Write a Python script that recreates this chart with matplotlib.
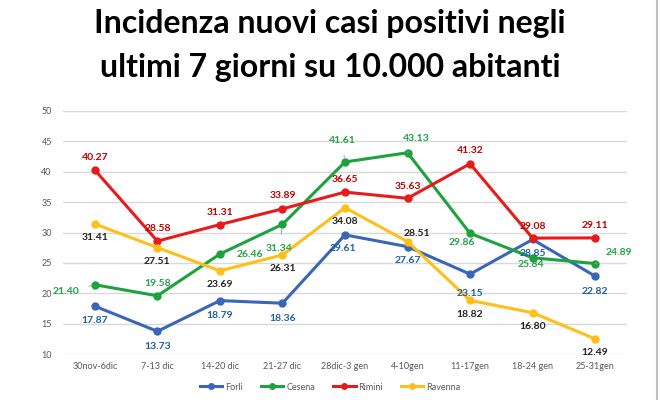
import numpy as np
import matplotlib.pyplot as plt
from matplotlib.lines import Line2D

plt.rcParams['font.family'] = ['Lato', 'DejaVu Sans']

settimane = ['30nov-6dic', '7-13 dic', '14-20 dic', '21-27 dic', '28dic-3 gen',
             '4-10gen', '11-17gen', '18-24 gen', '25-31gen']

forli = [17.87, 13.73, 18.79, 18.36, 29.61, 27.67, 23.15, 28.85, 22.82]
cesena = [21.40, 19.58, 26.46, 31.34, 41.61, 43.13, 29.86, 25.84, 24.89]
rimini = [40.27, 28.58, 31.31, 33.89, 36.65, 35.63, 41.32, 29.08, 29.11]
ravenna = [31.41, 27.51, 23.69, 26.31, 34.08, 28.51, 18.82, 16.80, 12.49]

# spostamento etichette (pixel)
off_forli = [(0, -14), (0, -15), (0, -14.5), (0, -15), (-2, -14), (0, -14), (0, -19), (0, -14), (0, -15)]
off_cesena = [(-29, -7), (0, 12), (30, 0), (-3, -24), (-3, 21), (9, 14), (-8, -9), (-2, -7), (24, 11)]
off_rimini = [(0, 13), (0, 13), (0, 12.5), (0, 13), (0, 13), (0, 12), (0, 13), (0, 12), (0, 12)]
off_ravenna = [(0, -14), (0, -14), (0, -14), (0, -14), (0, -14), (9, 8), (0, -14), (0, -14), (0, -14)]

# etichette con linea guida
guida = {('Cesena', 0), ('Cesena', 3), ('Cesena', 4), ('Cesena', 5), ('Cesena', 8), ('Forlì', 6)}

serie = [
    ('Forlì', forli, '#3A66B8', '#1F5FAA', off_forli),
    ('Cesena', cesena, '#1DA33E', '#22A347', off_cesena),
    ('Rimini', rimini, '#E81B1B', '#C00000', off_rimini),
    ('Ravenna', ravenna, '#FFBF1A', '#222222', off_ravenna),
]

fig = plt.figure(figsize=(6.6, 4), dpi=100)
ax = fig.add_axes([63 / 660, 1 - 354 / 400, (627 - 63) / 660, (354 - 111) / 400])

x = np.arange(len(settimane))
px = 72 / 100  # pixel -> punti
for nome, vals, col, lcol, offs in serie:
    ax.plot(x, vals, color=col, lw=2.2, marker='o', ms=5, label=nome, zorder=3)
    for i, (xi, v, (dx, dy)) in enumerate(zip(x, vals, offs)):
        ap = None
        if (nome, i) in guida:
            ap = dict(arrowstyle='-', color='#A6A6A6', lw=0.7, shrinkA=5, shrinkB=3)
        ax.annotate(f'{v:.2f}', (xi, v), xytext=(dx * px, dy * px), textcoords='offset points',
                    ha='center', va='center', fontsize=7.5, fontweight='bold', color=lcol,
                    zorder=4, arrowprops=ap)

ax.set_xlim(-0.51, 8.51)
ax.set_ylim(10, 50)
ax.set_yticks(range(10, 51, 5))
ax.set_xticks(x)
ax.set_xticklabels(settimane)
ax.grid(axis='y', color='#D9D9D9', lw=1)
ax.set_axisbelow(True)
for s in ax.spines.values():
    s.set_visible(False)
ax.tick_params(length=0, labelsize=6.5, labelcolor='#595959')
ax.tick_params(axis='y', pad=8)
ax.tick_params(axis='x', pad=6)

handles = [Line2D([], [], color=c, lw=2.2, marker='o', ms=4) for _, _, c, _, _ in serie]
fig.legend(handles, [s[0] for s in serie], loc='center', bbox_to_anchor=(0.5, 1 - 387 / 400),
           ncol=4, frameon=False, fontsize=6.5, handlelength=2.5, columnspacing=2.0,
           handletextpad=0.3, labelcolor='#595959')

fig.text(0.5, 1 - 24 / 400, 'Incidenza nuovi casi positivi negli', ha='center', va='center',
         fontsize=23, fontweight='bold', color='black')
fig.text(0.5, 1 - 68 / 400, 'ultimi 7 giorni su 10.000 abitanti', ha='center', va='center',
         fontsize=23, fontweight='bold', color='black')

fig.add_artist(Line2D([657 / 660, 657 / 660], [0, 1], color='#BFBFBF', lw=1.5))

fig.savefig('out.png', dpi=100)
